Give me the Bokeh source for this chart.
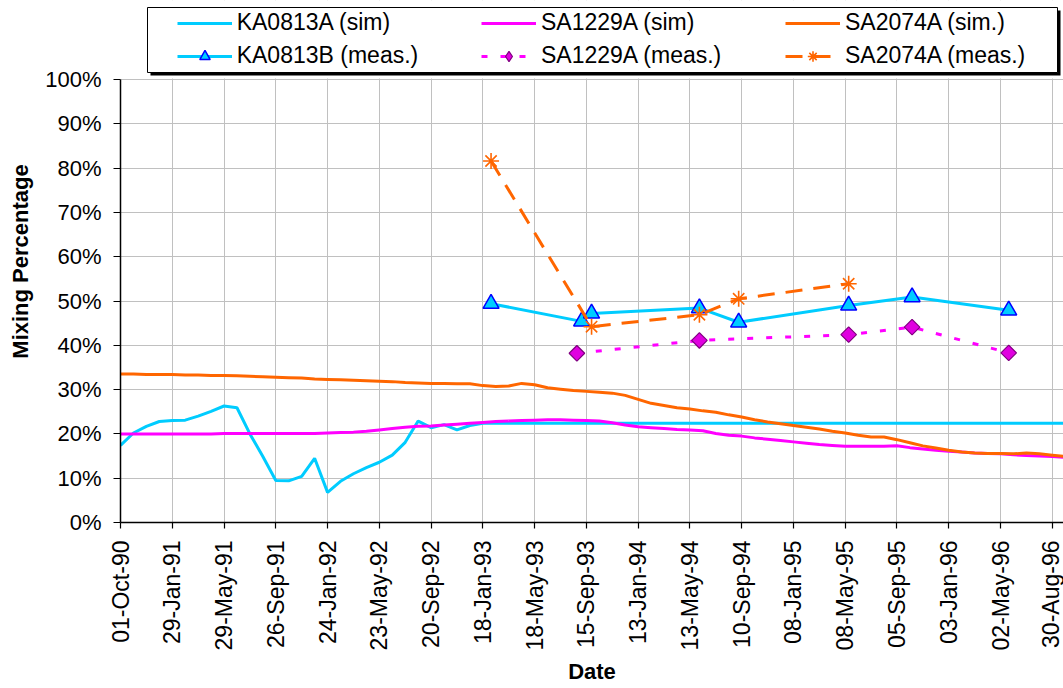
import math
import pandas as pd
from bokeh.plotting import figure
from bokeh.models import (FixedTicker, DatetimeTickFormatter, PrintfTickFormatter, Range1d,
                          Legend, LegendItem, BoxAnnotation)
from bokeh.embed import file_html
from bokeh.resources import INLINE

FONT = "Liberation Sans"

# ---- axes -------------------------------------------------------------
x_tick_labels = ["01-Oct-90", "29-Jan-91", "29-May-91", "26-Sep-91", "24-Jan-92",
                 "23-May-92", "20-Sep-92", "18-Jan-93", "18-May-93", "15-Sep-93",
                 "13-Jan-94", "13-May-94", "10-Sep-94", "08-Jan-95", "08-May-95",
                 "05-Sep-95", "03-Jan-96", "02-May-96", "30-Aug-96"]
y_ticks = [0, 10, 20, 30, 40, 50, 60, 70, 80, 90, 100]
x_start = "1990-10-01"
x_end = "1996-09-25"

# ---- simulated mixing percentages (one value every 30 days) ------------
sim_start = "1990-10-01"
sim_step_days = 30
ka0813a_sim = [17.4, 20.2, 21.7, 22.8, 23.0, 23.1, 24.0, 25.1, 26.3, 25.9,
               20.0, 14.9, 9.5, 9.4, 10.4, 14.5, 6.8, 9.3, 11.0, 12.4,
               13.6, 15.2, 18.1, 22.9, 21.4, 22.1, 20.9, 21.9, 22.4, 22.4,
               22.4, 22.4, 22.4, 22.4, 22.4, 22.4, 22.4, 22.4, 22.4, 22.4,
               22.4, 22.4, 22.4, 22.4, 22.4, 22.4, 22.4, 22.4, 22.4, 22.4,
               22.4, 22.4, 22.4, 22.4, 22.4, 22.4, 22.4, 22.4, 22.4, 22.4,
               22.4, 22.4, 22.4, 22.4, 22.4, 22.4, 22.4, 22.4, 22.4, 22.4,
               22.4, 22.4, 22.4, 22.4]
sa1229a_sim = [20.0, 20.0, 20.0, 20.0, 20.0, 20.0, 20.0, 20.0, 20.1, 20.1,
               20.1, 20.1, 20.1, 20.1, 20.1, 20.1, 20.2, 20.3, 20.4, 20.6,
               20.9, 21.2, 21.5, 21.7, 21.8, 22.0, 22.2, 22.4, 22.6, 22.8,
               22.9, 23.0, 23.1, 23.2, 23.2, 23.1, 23.0, 22.9, 22.5, 22.0,
               21.6, 21.4, 21.2, 21.0, 20.9, 20.7, 20.1, 19.7, 19.5, 19.1,
               18.8, 18.5, 18.2, 17.9, 17.6, 17.4, 17.2, 17.2, 17.2, 17.2,
               17.3, 16.9, 16.6, 16.3, 16.1, 15.9, 15.7, 15.6, 15.5, 15.3,
               15.1, 15.0, 14.9, 14.7]
sa2074a_sim = [33.5, 33.5, 33.4, 33.4, 33.4, 33.3, 33.3, 33.2, 33.2, 33.1,
               33.0, 32.9, 32.8, 32.7, 32.6, 32.4, 32.3, 32.2, 32.1, 32.0,
               31.9, 31.8, 31.6, 31.5, 31.4, 31.4, 31.3, 31.3, 30.9, 30.7,
               30.8, 31.4, 31.1, 30.4, 30.1, 29.8, 29.6, 29.4, 29.2, 28.7,
               27.8, 26.9, 26.4, 25.9, 25.6, 25.2, 24.9, 24.3, 23.8, 23.2,
               22.7, 22.3, 21.9, 21.5, 21.1, 20.6, 20.2, 19.7, 19.3, 19.3,
               18.7, 18.0, 17.3, 16.8, 16.3, 15.9, 15.7, 15.6, 15.6, 15.5,
               15.7, 15.5, 15.2, 14.9]

# ---- measured mixing percentages ---------------------------------------
ka0813b_dates = ["1993-02-06", "1993-09-04", "1993-09-27", "1994-06-04",
                 "1994-09-03", "1995-05-16", "1995-10-10", "1996-05-21"]
ka0813b_meas = [49.4, 45.4, 47.2, 48.4, 45.2, 49.0, 50.9, 47.9]

sa1229a_dates = ["1993-08-24", "1994-06-04", "1995-05-16", "1995-10-10", "1996-05-21"]
sa1229a_meas = [38.2, 41.1, 42.4, 44.1, 38.3]

sa2074a_dates = ["1993-02-06", "1993-09-27", "1994-06-04", "1994-09-03", "1995-05-16"]
sa2074a_meas = [81.6, 44.2, 46.9, 50.5, 53.9]

CYAN = "#00ccff"
MAGENTA = "#ff00ff"
ORANGE = "#ff6600"
DIAMOND_FILL = "#e000e0"
DIAMOND_EDGE = "#800080"

# Plot frame: 0 % sits 522 px from the top, 100 % at 79 px; the frame runs to
# the top of the canvas so the legend box can live inside it above 100 %.
ZERO_PX, HUNDRED_PX = 522, 79
y_top = 100.0 * ZERO_PX / (ZERO_PX - HUNDRED_PX)


def sim_dates(values):
    return pd.date_range(sim_start, periods=len(values), freq=f"{sim_step_days}D")


p = figure(width=1063, height=688, x_axis_type="datetime",
           output_backend="svg", toolbar_location=None,
           x_range=Range1d(pd.Timestamp(x_start), pd.Timestamp(x_end)),
           y_range=Range1d(0, y_top),
           min_border_left=120, min_border_right=0,
           min_border_top=0, min_border_bottom=688 - ZERO_PX)
p.outline_line_color = None
p.background_fill_color = "white"
p.border_fill_color = "white"

# simulated series
r_ka_sim = p.line(sim_dates(ka0813a_sim), ka0813a_sim, line_color=CYAN, line_width=3)
r_sa12_sim = p.line(sim_dates(sa1229a_sim), sa1229a_sim, line_color=MAGENTA, line_width=3)
r_sa20_sim = p.line(sim_dates(sa2074a_sim), sa2074a_sim, line_color=ORANGE, line_width=3)

# measured series
kb_x = pd.to_datetime(ka0813b_dates)
r_kb_line = p.line(kb_x, ka0813b_meas, line_color=CYAN, line_width=3)
r_kb_pts = p.scatter(kb_x, ka0813b_meas, marker="triangle", size=16,
                     fill_color=CYAN, line_color="#0000ff", line_width=1.5)

s12_x = pd.to_datetime(sa1229a_dates)
r_s12_line = p.line(s12_x, sa1229a_meas, line_color=MAGENTA, line_width=3,
                    line_dash="6 13")
# narrow diamond (used for the legend key) sits inside the square diamond
r_s12_key = p.scatter(s12_x, sa1229a_meas, marker="diamond", size=14,
                      fill_color=DIAMOND_FILL, line_color=DIAMOND_EDGE, line_width=1.2)
p.scatter(s12_x, sa1229a_meas, marker="square", size=11, angle=math.pi / 4,
          fill_color=DIAMOND_FILL, line_color=DIAMOND_EDGE, line_width=1.2)

s20_x = pd.to_datetime(sa2074a_dates)
r_s20_line = p.line(s20_x, sa2074a_meas, line_color=ORANGE, line_width=3,
                    line_dash="17 11")
r_s20_pts = p.scatter(s20_x, sa2074a_meas, marker="asterisk", size=16,
                      line_color=ORANGE, line_width=1.6)

# ---- axes styling --------------------------------------------------------
x_ticks = [pd.to_datetime(t, format="%d-%b-%y") for t in x_tick_labels]
x_tick_ms = [t.value // 10**6 for t in x_ticks]
fmt = "%d-%b-%y"
p.xaxis.ticker = FixedTicker(ticks=x_tick_ms)
p.xaxis.formatter = DatetimeTickFormatter(
    microseconds=fmt, milliseconds=fmt, seconds=fmt, minsec=fmt, minutes=fmt,
    hourmin=fmt, hours=fmt, days=fmt, months=fmt, years=fmt)
p.xaxis.major_label_orientation = math.pi / 2
p.xgrid.ticker = FixedTicker(ticks=x_tick_ms)

p.yaxis.ticker = FixedTicker(ticks=y_ticks)
p.yaxis.formatter = PrintfTickFormatter(format="%d%%")
p.yaxis.bounds = (0, 100)
p.ygrid.ticker = FixedTicker(ticks=y_ticks)

for grid in (p.xgrid, p.ygrid):
    grid.grid_line_color = "#c0c0c0"
    grid.grid_line_width = 1

for ax in (p.xaxis, p.yaxis):
    ax.axis_line_color = "black"
    ax.axis_line_width = 1.5
    ax.major_tick_line_color = "black"
    ax.major_tick_line_width = 1.2
    ax.major_tick_in = 0
    ax.minor_tick_line_color = None
    ax.major_label_text_font = FONT
    ax.major_label_text_color = "black"
    ax.axis_label_text_font = FONT
    ax.axis_label_text_font_style = "bold"
    ax.axis_label_text_font_size = "22px"
    ax.axis_label_text_color = "black"

p.xaxis.major_tick_out = 6
p.xaxis.major_label_standoff = 12
p.xaxis.major_label_text_font_size = "23px"
p.xaxis.axis_label = "Date"
p.xaxis.axis_label_standoff = 6

p.yaxis.major_tick_out = 7
p.yaxis.major_label_standoff = 12
p.yaxis.major_label_text_font_size = "22px"
p.yaxis.axis_label = "Mixing Percentage"
p.yaxis.axis_label_standoff = 9

# blank out the strip above 100 % so the grid stops at the top of the scale
p.add_layout(BoxAnnotation(bottom=100.25, fill_color="white", fill_alpha=1,
                           line_color=None))

# ---- legend box with drop shadow ----------------------------------------
shadow = BoxAnnotation(left=30, right=940, top=512, bottom=447,
                       left_units="screen", right_units="screen",
                       top_units="screen", bottom_units="screen",
                       fill_color="black", fill_alpha=1, line_color=None)
frame_box = BoxAnnotation(left=27, right=937, top=515, bottom=450,
                          left_units="screen", right_units="screen",
                          top_units="screen", bottom_units="screen",
                          fill_color="white", fill_alpha=1,
                          line_color="black", line_width=1, line_alpha=1)
p.add_layout(shadow)
p.add_layout(frame_box)

legend_columns = [
    (56.7, [("KA0813A (sim)", [r_ka_sim]), ("KA0813B (meas.)", [r_kb_line, r_kb_pts])]),
    (361, [("SA1229A (sim)", [r_sa12_sim]), ("SA1229A (meas.)", [r_s12_line, r_s12_key])]),
    (665, [("SA2074A (sim.)", [r_sa20_sim]), ("SA2074A (meas.)", [r_s20_line, r_s20_pts])]),
]
for x_pos, entries in legend_columns:
    leg = Legend(items=[LegendItem(label=lab, renderers=rs) for lab, rs in entries],
                 location=(x_pos, 453), orientation="vertical",
                 padding=0, margin=0, spacing=6,
                 glyph_width=55, glyph_height=26, label_height=26,
                 label_standoff=5,
                 label_text_font=FONT, label_text_font_size="23px",
                 label_text_color="black",
                 border_line_color=None, background_fill_alpha=0)
    p.add_layout(leg, "center")

open("out.html", "w").write(file_html(p, INLINE))
